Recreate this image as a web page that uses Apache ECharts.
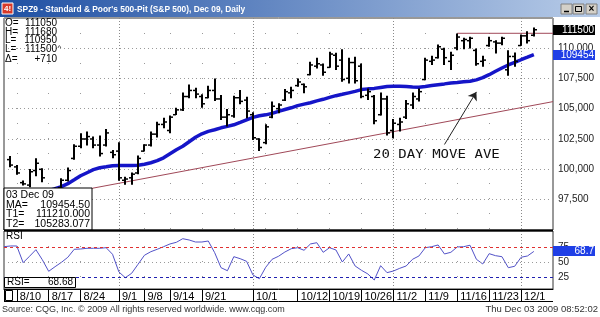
<!DOCTYPE html>
<html>
<head>
<meta charset="utf-8">
<script src="https://cdn.jsdelivr.net/npm/echarts@6/dist/echarts.min.js"></script>
<style>
html, body { margin: 0; padding: 0; background: #fff; }
#chart { width: 600px; height: 317px; }
</style>
</head>
<body>
<div id="chart"></div>
<script>
// trading days, 8/6 .. 12/3 plus a few empty slots on the right
const dates = [
  '8/6', '8/7',
  '8/10', '8/11', '8/12', '8/13', '8/14',
  '8/17', '8/18', '8/19', '8/20', '8/21',
  '8/24', '8/25', '8/26', '8/27', '8/28',
  '8/31', '9/1', '9/2', '9/3', '9/4',
  '9/8', '9/9', '9/10', '9/11',
  '9/14', '9/15', '9/16', '9/17', '9/18',
  '9/21', '9/22', '9/23', '9/24', '9/25',
  '9/28', '9/29', '9/30', '10/1', '10/2',
  '10/5', '10/6', '10/7', '10/8', '10/9',
  '10/12', '10/13', '10/14', '10/15', '10/16',
  '10/19', '10/20', '10/21', '10/22', '10/23',
  '10/26', '10/27', '10/28', '10/29', '10/30',
  '11/2', '11/3', '11/4', '11/5', '11/6',
  '11/9', '11/10', '11/11', '11/12', '11/13',
  '11/16', '11/17', '11/18', '11/19', '11/20',
  '11/23', '11/24', '11/25', '11/27',
  '11/30', '12/1', '12/2', '12/3', '12/4',
  '12/7', '12/8'
];

const tickLabels = ['8/10', '8/17', '8/24', '9/1', '9/8', '9/14', '9/21', '10/1', '10/12',
  '10/19', '10/26', '11/2', '11/9', '11/16', '11/23', '12/1'];
const weekLines = ['8/10', '8/17', '8/24', '9/1', '9/8', '9/14', '9/21', '9/28', '10/5', '10/12',
  '10/19', '10/26', '11/2', '11/9', '11/16', '11/23', '12/1'];
const monthLines = ['9/1', '10/1', '11/2', '12/1'];

const opens = [
  null, 100800,
  100200, 98900, 98700, 99900, 100000,
  98200, 97900, 98500, 99100, 100900,
  101900, 102500, 102500, 102000, 102000,
  101400, 101500, 99100, 99300, 99700,
  101500, 102000, 102900, 103700,
  103200, 104500, 104900, 106000, 106500,
  106000, 105900, 106500, 105800, 104300,
  104400, 105900, 105700, 104500, 102500,
  102200, 104300, 105000, 105700, 106300,
  106900, 107000, 107800, 108500, 108600,
  108400, 109400, 109000, 107500, 108800,
  108500, 106100, 106000, 104500, 105800,
  103200, 103700, 104300, 105300, 105800,
  107400, 108900, 109200, 109900, 108900,
  110000, 110600, 110600, 109800, 108900,
  110200, 110500, 110400, 108200,
  109300, 110200, 111000, 111050
];
const highs = [
  null, 101100,
  100366, 99084, 100037, 100917, 100094,
  98300, 98510, 99270, 100150, 102070,
  102970, 103110, 102700, 102780, 103330,
  101600, 102230, 99380, 99730, 101140,
  102070, 103110, 103930, 104260,
  104430, 105080, 106340, 107000, 106720,
  106180, 106890, 107490, 106120, 104970,
  106070, 106530, 105990, 104700, 102560,
  103710, 105580, 105440, 106610, 106810,
  107490, 107080, 108870, 109200, 108720,
  109680, 109600, 109900, 109200, 109270,
  108720, 106670, 106120, 106340, 106070,
  104150, 104260, 105710, 106340, 106670,
  109200, 109360, 110290, 110020, 109690,
  111190, 110840, 110920, 109960, 109360,
  110920, 110640, 110920, 109820,
  109630, 111110, 111380, 111680
];
const lows = [
  null, 100180,
  99544, 98673, 98533, 99437, 98944,
  97700, 97800, 98400, 99000, 100780,
  101740, 101960, 101740, 101060, 101880,
  100920, 99050, 98720, 98720, 99600,
  101470, 101880, 102620, 103380,
  102970, 104480, 104800, 105850, 105850,
  105080, 105850, 105630, 104060, 103520,
  104260, 105360, 104200, 102420, 101520,
  102070, 104200, 104620, 105630, 105850,
  106810, 106260, 107760, 108310, 107710,
  108370, 108180, 107220, 107080, 107080,
  105850, 105710, 103710, 104430, 102780,
  102560, 103110, 104150, 104970, 105580,
  107350, 108590, 109140, 108590, 108180,
  109820, 109900, 109960, 108540, 108450,
  110100, 109550, 110230, 107720,
  108450, 110180, 110370, 110950
];
const closes = [
  null, 100350,
  99700, 98800, 99800, 100500, 99300,
  97800, 98400, 99100, 99900, 101900,
  102500, 102700, 102000, 101300, 103000,
  101200, 99300, 99200, 99600, 100900,
  102000, 102900, 103700, 103900,
  104300, 104900, 106000, 106500, 106200,
  105400, 106500, 105800, 104300, 104500,
  105900, 105600, 104800, 102600, 101800,
  103500, 105200, 105300, 106400, 106500,
  107200, 106800, 108600, 108700, 108000,
  109500, 108500, 107400, 108800, 107300,
  106000, 106400, 104000, 105800, 103000,
  103800, 103900, 105400, 106000, 106400,
  109000, 109000, 110100, 109200, 109400,
  110900, 110700, 110800, 108700, 109000,
  110600, 110400, 110800, 109300,
  108900, 111000, 110600, 111500
];

// 20 day moving average
const ma20 = [
  null, null,
  null, null, null, null, null,
  98240, 98400, 98570, 98820, 99140,
  99470, 99720, 99970, 100130, 100210,
  100300, 100320, 100320, 100320, 100340,
  100420, 100540, 100710, 100950,
  101280, 101610, 101900, 102270, 102640,
  102930, 103130, 103260, 103420, 103540,
  103670, 103870, 104080, 104280, 104410,
  104490, 104610, 104780, 104930, 105070,
  105250, 105370, 105490, 105640, 105770,
  105930, 106070, 106180, 106300, 106420,
  106570, 106630, 106670, 106750, 106830,
  106850, 106850, 106830, 106790, 106770,
  106830, 106900, 106970, 107040, 107120,
  107160, 107220, 107260, 107370, 107550,
  107800, 108080, 108350, 108600,
  108810, 109030, 109240, 109454.5
];

const rsi = [
  76.7, 77.9,
  77.9, 49.7, 60.5, 71.6, 54.7,
  35.1, 42.9, 50.3, 58.8, 72.3,
  72.8, 74, 74, 74, 75,
  63.9, 34, 24.3, 31.8, 47,
  62.2, 68.2, 72.3, 76.7,
  81.3, 84.1, 90.2, 88, 84.6,
  84.6, 86.3, 66.6, 41.2, 36.1,
  59.8, 56.4, 52, 28.9, 22.6,
  41.9, 55.4, 60.5, 67.7, 73.3,
  75, 70.6, 81.3, 83.4, 67.2,
  75, 71.1, 50.8, 64.4, 44.1,
  36.8, 30.6, 20.4, 44.6, 32.8,
  35.6, 40.2, 44.1, 55.4, 61,
  75, 76.7, 79.6, 64.4, 67.2,
  76.2, 76.7, 79.1, 55.4, 47.5,
  64.9, 61.5, 59.8, 41.2,
  43.6, 58.8, 61, 68.68
];

const rsiLabels = [25, 50, 75];
const rsiUpper = 75;
const rsiLower = 25;

// trend lines T1 / T2
const t1Line = [['11/16', 111210], ['12/8', 111210]];
const t2Line = [['8/17', 97763], ['12/8', 105580]];
const t1Value = 111210.000;
const t2Value = 105283.077;

// arrow pointing at the moving average
const arrowFrom = ['11/12', 102047];
const arrowTo = ['11/19', 106381];

const lastOpen = 111050, lastHigh = 111680, lastLow = 110950, lastPrice = 111500, lastChange = 710;
const lastMA = ma20[ma20.length - 1];
const lastRsi = rsi[rsi.length - 1];

const ohlc = [];
opens.forEach((o, i) => {
  if (o != null) ohlc.push([i, o, highs[i], lows[i], closes[i]]);
});

const font = 'Liberation Sans';

function renderBar(params, api) {
  const idx = api.value(0);
  const hi = api.coord([idx, api.value(2)]);
  const lo = api.coord([idx, api.value(3)]);
  const op = api.coord([idx, api.value(1)]);
  const cl = api.coord([idx, api.value(4)]);
  const x = Math.round(hi[0]);
  return {
    type: 'group',
    children: [
      { type: 'line', shape: { x1: x, y1: hi[1], x2: x, y2: lo[1] }, style: { stroke: '#000', lineWidth: 2 } },
      { type: 'line', shape: { x1: x - 3, y1: op[1], x2: x, y2: op[1] }, style: { stroke: '#000', lineWidth: 1.5 } },
      { type: 'line', shape: { x1: x, y1: cl[1], x2: x + 3, y2: cl[1] }, style: { stroke: '#000', lineWidth: 1.5 } }
    ]
  };
}

const weekSplit = (gi) => ({
  type: 'category', gridIndex: gi, data: dates, boundaryGap: false,
  axisLine: { show: false }, axisTick: { show: false }, axisLabel: { show: false },
  splitLine: { show: true, interval: (i, v) => weekLines.includes(v), lineStyle: { color: '#9a9a9a', type: [1, 14] } }
});
const monthSplit = (gi) => ({
  type: 'category', gridIndex: gi, data: dates, boundaryGap: false,
  axisLine: { show: false }, axisTick: { show: false }, axisLabel: { show: false },
  splitLine: { show: true, interval: (i, v) => monthLines.includes(v), lineStyle: { color: '#8a8a8a', type: [1, 2] } }
});

const chart = echarts.init(document.getElementById('chart'));

const option = {
  animation: false,
  backgroundColor: '#fff',
  grid: [
    { left: 4, right: 47, top: 18, height: 212, show: true, borderColor: '#333', borderWidth: 1, backgroundColor: '#fff' },
    { left: 4, right: 47, top: 231, height: 58, show: true, borderColor: '#333', borderWidth: 1, backgroundColor: '#fff' }
  ],
  xAxis: [
    weekSplit(0),
    monthSplit(0),
    {
      type: 'category', gridIndex: 1, data: dates, boundaryGap: false, position: 'bottom',
      axisLine: { show: true, lineStyle: { color: '#000', width: 1 } },
      axisTick: { show: true, interval: (i, v) => tickLabels.includes(v), length: 12, lineStyle: { color: '#000', width: 1 } },
      axisLabel: {
        interval: (i, v) => tickLabels.includes(v), align: 'left', verticalAlign: 'top',
        margin: 2, padding: [0, 0, 0, 3], fontSize: 11, fontFamily: font, color: '#000'
      },
      splitLine: { show: true, interval: (i, v) => weekLines.includes(v), lineStyle: { color: '#9a9a9a', type: [1, 14] } }
    },
    monthSplit(1)
  ],
  yAxis: [
    {
      type: 'value', gridIndex: 0, position: 'right', min: 95000, max: 112470, interval: 2500,
      axisLine: { show: false }, axisTick: { show: false },
      axisLabel: { fontSize: 10, fontFamily: font, color: '#222', margin: 5, showMinLabel: false, showMaxLabel: false },
      splitLine: { show: true, lineStyle: { color: '#9a9a9a', type: [1, 3] } }
    },
    {
      type: 'value', gridIndex: 1, position: 'right', min: 5.2, max: 103.2,
      axisLine: { show: false }, axisTick: { show: false },
      axisLabel: { customValues: rsiLabels, fontSize: 10, fontFamily: font, color: '#222', margin: 5 },
      splitLine: { show: false }
    }
  ],
  series: [
    {
      name: 'T2', type: 'line', xAxisIndex: 0, yAxisIndex: 0, data: t2Line, symbol: 'none',
      lineStyle: { color: '#a04858', width: 1 }, z: 2
    },
    {
      name: 'T1', type: 'line', xAxisIndex: 0, yAxisIndex: 0, data: t1Line, symbol: 'none',
      lineStyle: { color: '#a04858', width: 1 }, z: 2
    },
    {
      name: 'MA', type: 'line', xAxisIndex: 0, yAxisIndex: 0, data: ma20, symbol: 'none',
      lineStyle: { color: '#1515c8', width: 3.5 }, z: 3,
      markLine: {
        silent: true, symbol: ['none', 'arrow'], symbolSize: 8,
        label: { show: false },
        lineStyle: { color: '#222', width: 1, type: 'solid' },
        data: [[{ coord: arrowFrom }, { coord: arrowTo }]]
      }
    },
    {
      name: 'SPZ9', type: 'custom', xAxisIndex: 0, yAxisIndex: 0, data: ohlc,
      renderItem: renderBar, encode: { x: 0, y: [1, 2, 3, 4] }, clip: true, z: 4
    },
    {
      name: 'RSI', type: 'line', xAxisIndex: 2, yAxisIndex: 1, data: rsi, symbol: 'none',
      lineStyle: { color: '#5252c8', width: 1 }, z: 3,
      markLine: {
        silent: true, symbol: 'none', label: { show: false },
        data: [
          { yAxis: rsiUpper, lineStyle: { color: '#e03030', type: [3, 3], width: 1 } },
          { yAxis: 50, lineStyle: { color: '#9a9a9a', type: [1, 3], width: 1 } },
          { yAxis: rsiLower, lineStyle: { color: '#2020b0', type: [3, 3], width: 1 } }
        ]
      }
    }
  ]
};

chart.setOption(option);

const txt = (x, y, text, opts) => Object.assign({
  type: 'text', x: x, y: y, z: 60,
  style: Object.assign({ text: text, fill: '#000', font: '10px ' + font, align: 'left', verticalAlign: 'middle' }, (opts || {}).style)
}, opts && opts.el);

const fmtChange = (v) => (v > 0 ? '+' : '') + v;

// chrome: title bar, info boxes, footer
const chrome = [
  {
    type: 'rect', z: 50, shape: { x: 0, y: 0, width: 600, height: 17 },
    style: { fill: new echarts.graphic.LinearGradient(0, 0, 1, 0, [{ offset: 0, color: '#1e4fa3' }, { offset: 1, color: '#b8cce8' }]) }
  },
  { type: 'rect', z: 51, shape: { x: 2, y: 3, width: 11, height: 11 }, style: { fill: '#d83a2a', stroke: '#fff', lineWidth: 1 } },
  txt(4, 9, '4!', { style: { fill: '#fff', font: 'bold 8px ' + font } }),
  txt(17, 9, "SPZ9 - Standard & Poor's 500-Pit (S&P 500), Dec 09, Daily", { style: { fill: '#fff', font: 'bold 9.5px ' + font }, el: { scaleX: 0.88 } }),
  { type: 'rect', z: 51, shape: { x: 561, y: 4, width: 11, height: 10 }, style: { fill: '#d4d0c8', stroke: '#808080', lineWidth: 1 } },
  { type: 'rect', z: 51, shape: { x: 573, y: 4, width: 11, height: 10 }, style: { fill: '#d4d0c8', stroke: '#808080', lineWidth: 1 } },
  { type: 'rect', z: 51, shape: { x: 586, y: 4, width: 11, height: 10 }, style: { fill: '#d4d0c8', stroke: '#808080', lineWidth: 1 } },
  { type: 'line', z: 52, shape: { x1: 564, y1: 11.5, x2: 569, y2: 11.5 }, style: { stroke: '#000', lineWidth: 1.5 } },
  { type: 'rect', z: 52, shape: { x: 575.5, y: 6.5, width: 6, height: 5 }, style: { fill: 'none', stroke: '#000', lineWidth: 1 } },
  txt(591.5, 9, '×', { style: { align: 'center', font: 'bold 10px ' + font } }),

  // last bar readout
  txt(5, 23, 'O='), txt(57, 23, String(lastOpen), { style: { align: 'right' } }),
  txt(5, 32, 'H='), txt(57, 32, String(lastHigh), { style: { align: 'right' } }),
  txt(5, 40.5, 'L='), txt(57, 40.5, String(lastLow), { style: { align: 'right' } }),
  txt(5, 49, 'L='), txt(57, 49, String(lastPrice), { style: { align: 'right' } }), txt(57.5, 48, '^', { style: { font: '8px ' + font } }),
  txt(5, 59, 'Δ='), txt(57, 59, fmtChange(lastChange), { style: { align: 'right' } }),

  // study values box
  { type: 'rect', z: 58, shape: { x: 4, y: 188, width: 88, height: 42 }, style: { fill: '#fff', stroke: '#000', lineWidth: 1 } },
  txt(6, 195.5, '03 Dec 09', { style: { font: '10.5px ' + font } }),
  txt(6, 205, 'MA=', { style: { font: '10.5px ' + font } }), txt(90, 205, lastMA.toFixed(2), { style: { align: 'right', font: '10.5px ' + font } }),
  txt(6, 214.5, 'T1=', { style: { font: '10.5px ' + font } }), txt(90, 214.5, t1Value.toFixed(3), { style: { align: 'right', font: '10.5px ' + font } }),
  txt(6, 224, 'T2=', { style: { font: '10.5px ' + font } }), txt(90, 224, t2Value.toFixed(3), { style: { align: 'right', font: '10.5px ' + font } }),

  // RSI panel
  { type: 'line', z: 59, shape: { x1: 4, y1: 230.5, x2: 553, y2: 230.5 }, style: { stroke: '#000', lineWidth: 2 } },
  txt(6, 236.5, 'RSI'),
  { type: 'rect', z: 58, shape: { x: 4.5, y: 277.5, width: 71, height: 10 }, style: { fill: '#fff', stroke: '#000', lineWidth: 1 } },
  txt(7, 282.5, 'RSI='), txt(73, 282.5, lastRsi.toFixed(2), { style: { align: 'right' } }),

  // date row
  { type: 'line', z: 59, shape: { x1: 4, y1: 301.5, x2: 553, y2: 301.5 }, style: { stroke: '#000', lineWidth: 1 } },
  { type: 'line', z: 59, shape: { x1: 4.5, y1: 289, x2: 4.5, y2: 301.5 }, style: { stroke: '#000', lineWidth: 1 } },
  { type: 'rect', z: 59, shape: { x: 5.5, y: 290.5, width: 7, height: 10 }, style: { fill: '#fff', stroke: '#000', lineWidth: 1 } },

  // annotation
  txt(373, 155, '20 DAY MOVE AVE', { style: { font: '13px DejaVu Sans Mono', fill: '#111' }, el: { scaleX: 1.08 } }),

  // footer
  txt(2, 309.5, 'Source: CQG, Inc. © 2009 All rights reserved worldwide. www.cqg.com', { style: { font: '9px ' + font, fill: '#333' } }),
  txt(598, 309.5, 'Thu Dec 03 2009 08:52:02', { style: { align: 'right', font: '9.5px ' + font, fill: '#333' } })
];

// value tags on the right axis, placed through the axis scales
const yPrice = chart.convertToPixel({ yAxisIndex: 0 }, lastPrice);
const yMA = chart.convertToPixel({ yAxisIndex: 0 }, lastMA);
const yRsi = chart.convertToPixel({ yAxisIndex: 1 }, lastRsi);

const tag = (y, text, fill) => [
  { type: 'rect', z: 60, shape: { x: 553, y: Math.round(y) - 5, width: 42, height: 10 }, style: { fill: fill } },
  txt(594, Math.round(y), text, { style: { align: 'right', fill: '#fff' } })
];

chart.setOption({
  graphic: chrome
    .concat(tag(yPrice, String(lastPrice), '#000'))
    .concat(tag(yMA, String(Math.floor(lastMA)), '#1f3fe6'))
    .concat(tag(yRsi, lastRsi.toFixed(1), '#1f3fe6'))
});
</script>
</body>
</html>
